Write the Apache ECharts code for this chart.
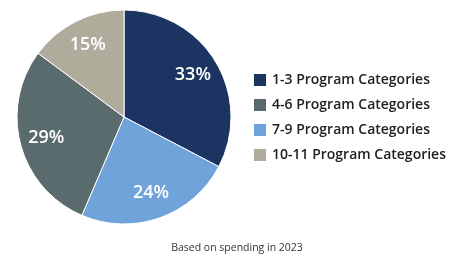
<!DOCTYPE html>
<html><head><meta charset="utf-8">
<script src="https://cdn.jsdelivr.net/npm/echarts@6/dist/echarts.min.js"></script>
<style>html,body{margin:0;padding:0;background:#fff}#c{width:451px;height:259px}</style>
</head><body><div id="c"></div>
<script>
const categories = ['1-3 Program Categories','7-9 Program Categories','4-6 Program Categories','10-11 Program Categories'];
const values = [33, 24, 29, 15];
const legendOrder = ['1-3 Program Categories','4-6 Program Categories','7-9 Program Categories','10-11 Program Categories'];
const colors = ['#1c3461','#6fa3d9','#5a6b6e','#b0ac9c'];
const note = 'Based on spending in 2023';

const data = categories.map((c,i)=>({name:c, value:values[i], itemStyle:{color:colors[i]}}));
const chart = echarts.init(document.getElementById('c'));
chart.setOption({
  animation:false,
  title:{text:note, left:232, top:238, textAlign:'center',
    textStyle:{fontFamily:'Open Sans', fontSize:10.5, fontWeight:'normal', color:'#333'}},
  legend:{orient:'vertical', left:247, top:67, itemWidth:14, itemHeight:14, itemGap:9,
    data:legendOrder, icon:'rect',
    textStyle:{fontFamily:'Open Sans', fontSize:14, fontWeight:600, color:'#222'}},
  series:[
    {type:'pie', center:[124,117], radius:107, startAngle:90, clockwise:true,
     data:data, label:{show:false}, labelLine:{show:false}, silent:true,
     itemStyle:{borderColor:'#fff', borderWidth:1}},
    {type:'pie', center:[124,117], radius:[48,107], startAngle:90, clockwise:true, silent:true,
     data:categories.map((c,i)=>({name:c, value:values[i], itemStyle:{color:'rgba(0,0,0,0)'}})),
     legendHoverLink:false,
     label:{show:true, position:'inside', formatter:'{c}%', color:'#fff',
       fontFamily:'Open Sans', fontSize:18, fontWeight:600},
     labelLine:{show:false}}
  ]
});
</script></body></html>
